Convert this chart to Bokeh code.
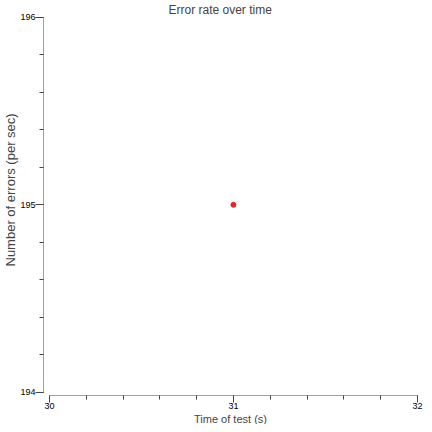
from bokeh.plotting import figure
from bokeh.models import SingleIntervalTicker, Range1d, Title
from bokeh.embed import file_html
from bokeh.resources import INLINE

# data
times = [31]
errors = [195]
title_text = "Error rate over time"
x_label = "Time of test (s)"
y_label = "Number of errors (per sec)"

FONT = "Liberation Sans"

p = figure(width=424, height=424, output_backend="svg", toolbar_location=None,
           x_range=Range1d(29.968, 32.0), y_range=Range1d(193.984, 196.003),
           min_border_top=0, min_border_bottom=0, min_border_left=0, min_border_right=7)
p.title.text = title_text
p.title.text_font = FONT
p.title.text_font_size = "12px"
p.title.text_font_style = "normal"
p.title.align = "left"
p.title.offset = 125
p.title.standoff = 0

p.outline_line_color = None
p.xgrid.visible = False
p.ygrid.visible = False
p.background_fill_color = "white"
p.border_fill_color = "white"

p.scatter(times, errors, size=5, color="#e3262a", line_color="#e3262a")

for ax, out in ((p.xaxis[0], 7), (p.yaxis[0], 8)):
    ax.ticker = SingleIntervalTicker(interval=1, num_minor_ticks=5)
    ax.axis_line_color = "#a0a0a0"
    ax.axis_line_width = 1
    ax.major_tick_line_color = "#444444"
    ax.minor_tick_line_color = "#444444"
    ax.major_tick_in = 0
    ax.major_tick_out = out
    ax.minor_tick_in = 0
    ax.minor_tick_out = 4
    ax.major_label_text_font = FONT
    ax.major_label_text_font_size = "9px"
    ax.major_label_text_color = "black"
    ax.major_label_standoff = 0

p.xaxis[0].bounds = (30, 32)
p.yaxis[0].bounds = (194, 196)

xt = Title(text=x_label, align="center", text_font=FONT, text_font_size="11px",
           text_font_style="normal", standoff=-1)
p.add_layout(xt, "below")
yt = Title(text=y_label, align="left", text_font=FONT, text_font_size="13px",
           text_font_style="normal", standoff=0, offset=129)
p.add_layout(yt, "left")

open("out.html", "w").write(file_html(p, INLINE))
